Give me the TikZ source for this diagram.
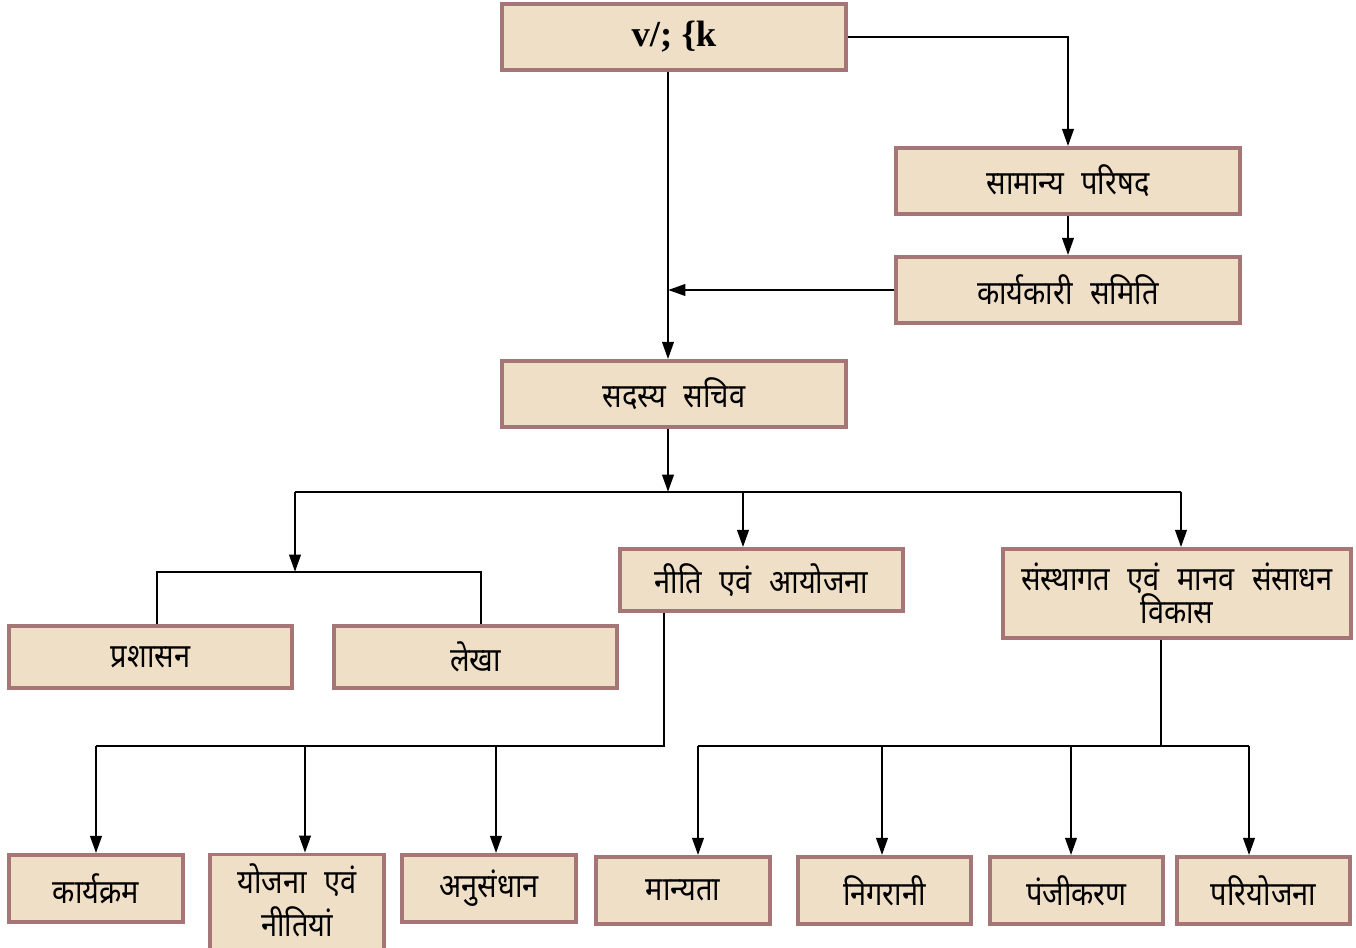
\documentclass[tikz,border=0pt]{standalone}
\usepackage{fontspec}
\newfontfamily\dev[Script=Devanagari,FakeStretch=0.87]{Noto Sans}
\newfontfamily\tnr{Liberation Serif}
\usetikzlibrary{arrows.meta}
\definecolor{boxfill}{RGB}{240,223,199}
\definecolor{boxline}{RGB}{166,118,118}
\tikzset{
  devtext/.style={font=\dev\fontsize{25}{27}\selectfont},
  orgbox/.style={draw=boxline,fill=boxfill,line width=2.6pt,inner sep=0pt,align=center,devtext},
  conn/.style={line width=2.1pt,black},
  arr/.style={conn,-{Triangle[length=13pt,width=8.5pt]}},
}
\begin{document}
\begin{tikzpicture}[x=0.75pt,y=-0.75pt]
\useasboundingbox (0,0) rectangle (1356,948);
% boxes
\node[orgbox,minimum width=258pt,minimum height=49.5pt,font=\tnr\bfseries\fontsize{27.5}{29}\selectfont] (top) at (674,37) {v/; \{k};
\node[orgbox,minimum width=258pt,minimum height=49.5pt] (sam) at (1068,181) {सामान्य\hspace{0.3em} परिषद};
\node[orgbox,minimum width=258pt,minimum height=49.5pt] (kar) at (1068,290) {कार्यकारी\hspace{0.3em} समिति};
\node[orgbox,minimum width=258pt,minimum height=49.5pt] (sad) at (674,394) {सदस्य\hspace{0.3em} सचिव};
\node[orgbox,minimum width=212.25pt,minimum height=46.5pt] (pra) at (150.5,657) {प्रशासन};
\node[orgbox,minimum width=212.25pt,minimum height=46.5pt] (lek) at (475.5,657) {लेखा};
\node[orgbox,minimum width=212.25pt,minimum height=46.5pt] (nee) at (761.5,580) {नीति\hspace{0.3em} एवं\hspace{0.3em} आयोजना};
\node[orgbox,minimum width=261pt,minimum height=66.75pt] (san) at (1177,593.5) {संस्थागत\hspace{0.3em} एवं\hspace{0.3em} मानव\hspace{0.3em} संसाधन\\[-2pt]विकास};
\node[orgbox,minimum width=130.5pt,minimum height=50.25pt] (kry) at (96,888.5) {कार्यक्रम};
\node[orgbox,minimum width=130.5pt,minimum height=74pt] (yoj) at (297,904) {};
\node[devtext,align=center,inner sep=0pt] (yojt) at (297,900) {योजना\hspace{0.3em} एवं\\[5pt]नीतियां};
\node[orgbox,minimum width=130.5pt,minimum height=50.25pt] (anu) at (489,888.5) {अनुसंधान};
\node[orgbox,minimum width=130.5pt,minimum height=50.25pt] (man) at (683,890.5) {मान्यता};
\node[orgbox,minimum width=129.75pt,minimum height=50.25pt] (nig) at (884.5,890.5) {निगरानी};
\node[orgbox,minimum width=129.75pt,minimum height=50.25pt] (pan) at (1076.5,890.5) {पंजीकरण};
\node[orgbox,minimum width=129.75pt,minimum height=50.25pt] (par) at (1263.5,890.5) {परियोजना};
% coordinates
\coordinate (vx) at (668,0);
\coordinate (j1) at (668,492);
\coordinate (hl) at (295,492);
\coordinate (hm) at (743,492);
\coordinate (hr) at (1181,492);
\coordinate (c1) at (157,572);
\coordinate (c2) at (481,572);
\coordinate (d0) at (664,746);
\coordinate (d1) at (96,746);
\coordinate (d2) at (305,746);
\coordinate (d3) at (496,746);
\coordinate (e0) at (1161,746);
\coordinate (e1) at (698,746);
\coordinate (e2) at (882,746);
\coordinate (e3) at (1071,746);
\coordinate (e4) at (1249,746);
% connectors
\draw[arr] (top.east) -| (sam.north);
\draw[arr] (sam.south) -- (kar.north);
\draw[arr] (top.south -| vx) -- (sad.north -| vx);
\draw[arr] (kar.west) -- (kar.west -| vx);
\draw[arr] (sad.south -| vx) -- (j1);
\draw[conn] (hl) -- (hr);
\draw[arr] (hl) -- (hl |- c1);
\draw[conn] (c1 |- pra.north) -- (c1) -- (c2) -- (c2 |- lek.north);
\draw[arr] (hm) -- (hm |- nee.north);
\draw[arr] (hr) -- (hr |- san.north);
\draw[conn] (nee.south -| d0) -- (d0) -- (d1);
\draw[arr] (d1) -- (d1 |- kry.north);
\draw[arr] (d2) -- (d2 |- yoj.north);
\draw[arr] (d3) -- (d3 |- anu.north);
\draw[conn] (san.south -| e0) -- (e0);
\draw[conn] (e1) -- (e4);
\draw[arr] (e1) -- (e1 |- man.north);
\draw[arr] (e2) -- (e2 |- nig.north);
\draw[arr] (e3) -- (e3 |- pan.north);
\draw[arr] (e4) -- (e4 |- par.north);
\end{tikzpicture}
\end{document}
